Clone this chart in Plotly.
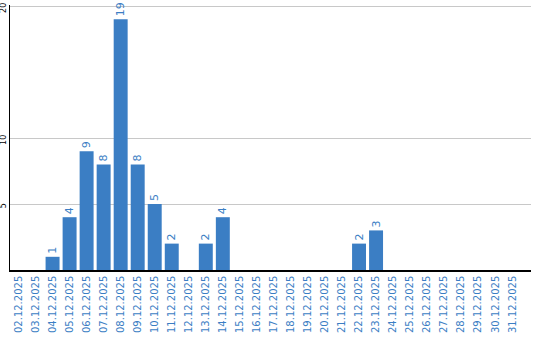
import plotly.graph_objects as go

dates = [f"{d:02d}.12.2025" for d in range(2, 32)]
values = [0, 0, 1, 4, 9, 8, 19, 8, 5, 2, 0, 2, 4, 0, 0, 0, 0, 0, 0, 0, 2, 3, 0, 0, 0, 0, 0, 0, 0, 0]
y_ticks = [5, 10, 20]

blue = "#3b7ec4"
labels = [str(v) if v else "" for v in values]

fig = go.Figure(go.Bar(
    x=dates, y=values, marker_color=blue, marker_line_width=0,
    text=labels, textposition="outside", textangle=-90,
    textfont=dict(family="DejaVu Sans", size=11, color=blue),
    cliponaxis=False,
))
fig.update_layout(
    width=540, height=340,
    margin=dict(l=10, r=9, t=5, b=70),
    paper_bgcolor="white", plot_bgcolor="white",
    bargap=0.18, showlegend=False,
)
fig.update_xaxes(
    type="category", range=[-0.5, 30.1], tickangle=-90,
    tickfont=dict(family="DejaVu Sans", size=10, color=blue),
    showline=True, linecolor="black", linewidth=1.5,
    ticks="", showgrid=False,
)
fig.update_yaxes(
    range=[0, 20.08], tickvals=y_ticks, tickangle=-90,
    tickfont=dict(family="DejaVu Sans", size=8, color="black"),
    showline=True, linecolor="black", linewidth=1,
    showgrid=True, gridcolor="#c8c8c8", gridwidth=1,
    zeroline=False, ticks="", ticklen=0, automargin=False,
    ticklabeloverflow="allow", ticklabelshift=3,
)
fig.write_html("out.html")
